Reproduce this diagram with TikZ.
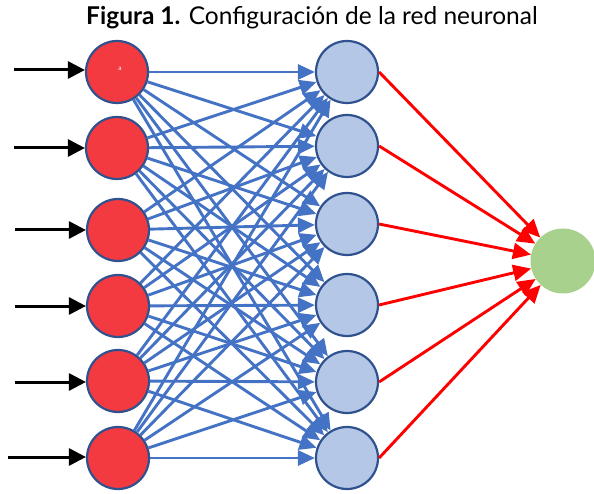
\documentclass[tikz,border=0pt]{standalone}
\usepackage{fontspec}
\setmainfont{Lato}
\usepackage{tikz}
\usetikzlibrary{arrows.meta}
\definecolor{inred}{HTML}{F43A41}
\definecolor{hidblue}{HTML}{B4C7E7}
\definecolor{rimblue}{HTML}{2F528F}
\definecolor{linkblue}{HTML}{4472C4}
\definecolor{outgreen}{HTML}{A9D18E}
\tikzset{
  neuron/.style={circle,minimum size=62pt,inner sep=0pt},
  inneuron/.style={neuron,fill=inred,draw=rimblue,line width=2.2pt},
  hidneuron/.style={neuron,fill=hidblue,draw=rimblue,line width=2.2pt},
  outneuron/.style={neuron,minimum size=65pt,fill=outgreen},
  feedarrow/.style={line width=3pt,black,-{Triangle[length=17pt,width=17pt]}},
  linkarrow/.style={line width=2.9pt,linkblue,-{Triangle[length=17pt,width=15pt]}},
  outarrow/.style={line width=2.9pt,red,-{Triangle[length=18pt,width=16pt]}}
}
\begin{document}
\begin{tikzpicture}[line join=round,x=1pt,y=1pt]
\useasboundingbox (0,-494) rectangle (594,0);
\clip (0,-494) rectangle (594,0);
% title
\node (title) at (312,-18) {\fontsize{24.5pt}{28pt}\selectfont\textbf{Figura 1.} Configuración de la red neuronal};
% input layer
\node[inneuron] (i1) at (117,-72) {};
\node[inneuron] (i2) at (117,-148) {};
\node[inneuron] (i3) at (118,-230) {};
\node[inneuron] (i4) at (118,-306) {};
\node[inneuron] (i5) at (118,-381) {};
\node[inneuron] (i6) at (118,-458) {};
\node[white,font=\fontsize{6.5pt}{7pt}\selectfont] (mark) at (120,-69) {a};
% hidden layer
\node[hidneuron] (h1) at (347,-72) {};
\node[hidneuron] (h2) at (347,-146) {};
\node[hidneuron] (h3) at (347,-224) {};
\node[hidneuron] (h4) at (347,-305) {};
\node[hidneuron] (h5) at (347,-382) {};
\node[hidneuron] (h6) at (347,-458) {};
% output
\node[outneuron] (o) at (563,-261) {};
% inputs
\coordinate (a1) at (14,-70);
\coordinate (a2) at (14,-148);
\coordinate (a3) at (15,-230);
\coordinate (a4) at (15,-306);
\coordinate (a5) at (15,-382);
\coordinate (a6) at (8,-457);
\foreach \k in {1,...,6}
  \draw[feedarrow] (a\k) -- (a\k -| i\k.west);
% input to hidden
\foreach \k in {1,...,6}
  \foreach \m in {1,...,6}
    \draw[linkarrow] (i\k) -- (h\m);
% hidden to output
\foreach \m in {1,...,6}
  \draw[outarrow] (h\m.east) -- (o);
\end{tikzpicture}
\end{document}
